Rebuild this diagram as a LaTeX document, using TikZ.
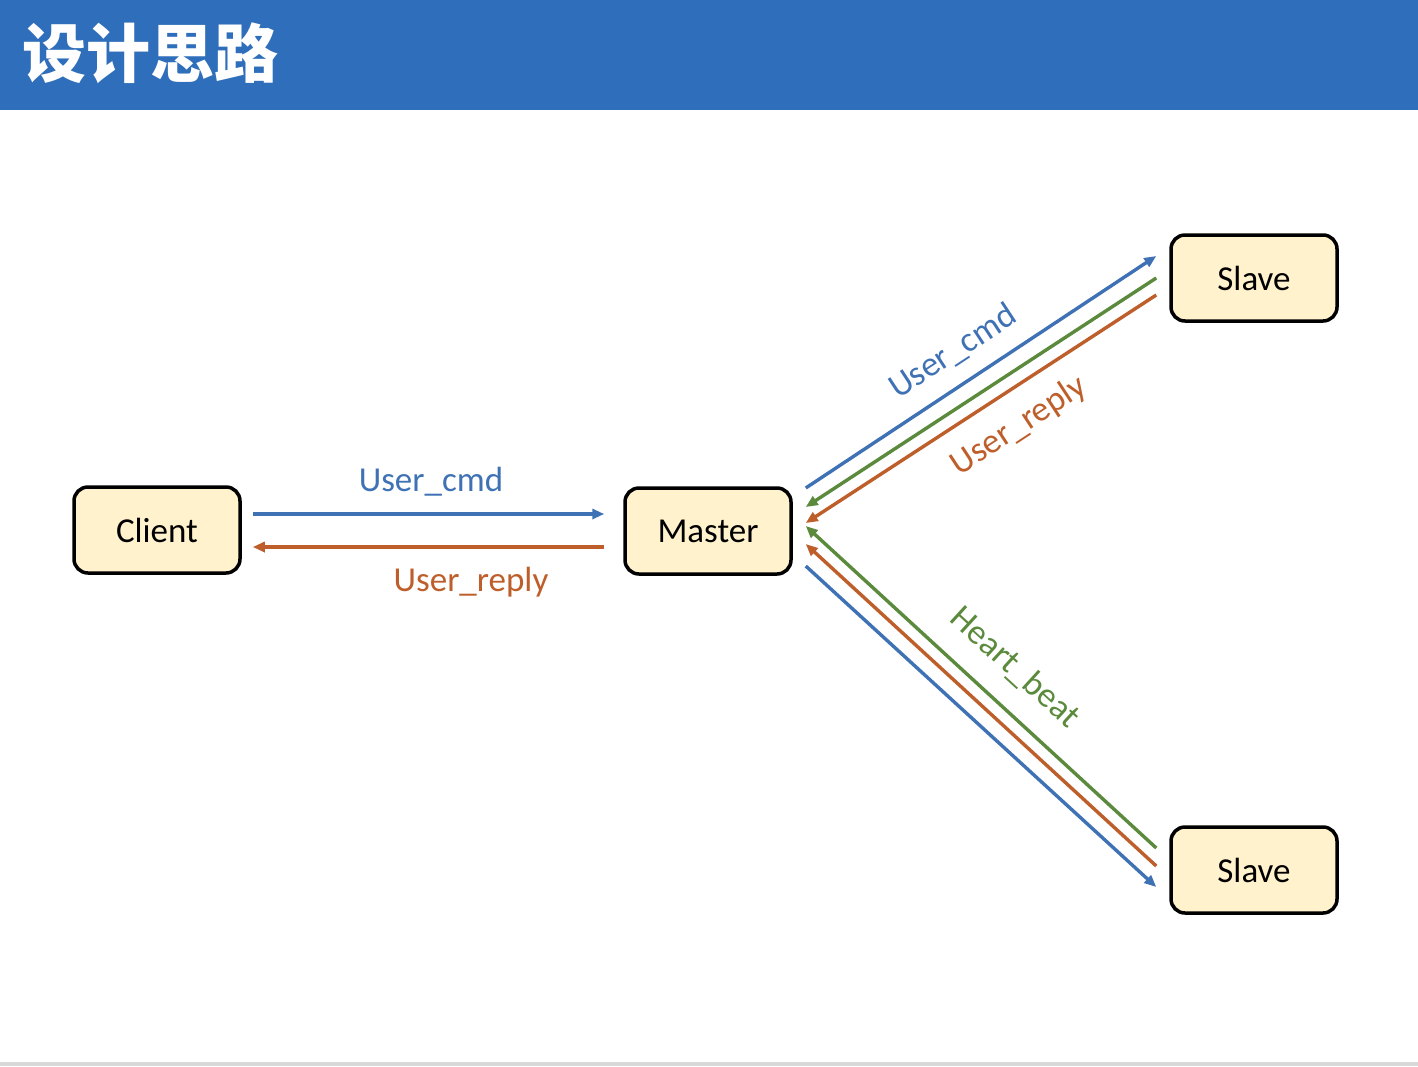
\documentclass[tikz,border=0pt]{standalone}
\usepackage{fontspec}
\setmainfont{Carlito}
\newfontfamily\cjk{Noto Sans CJK SC}
\usetikzlibrary{arrows.meta,calc}
\definecolor{hdr}{HTML}{2F6EBA}
\definecolor{cblue}{HTML}{3F72B5}
\definecolor{corange}{HTML}{BE5F2B}
\definecolor{cgreen}{HTML}{5B8A3C}
\definecolor{boxfill}{HTML}{FFF2CC}
\definecolor{rule}{HTML}{D9D9D9}
\begin{document}
\begin{tikzpicture}[x=1pt,y=-1pt,
  box/.style={draw=black,line width=3.5pt,fill=boxfill,rounded corners=14pt,
    minimum width=166pt,minimum height=86pt,inner sep=0pt,
    font=\fontsize{35}{40}\selectfont},
  link/.style={line width=3.4pt,-{Triangle[length=12pt,width=10pt]}},
  lbl/.style={inner sep=0pt,font=\fontsize{35}{40}\selectfont}]
\useasboundingbox (0,0) rectangle (1418,1066);
\fill[white] (0,0) rectangle (1418,1066);
\fill[hdr] (0,0) rectangle (1418,110);
\fill[rule] (0,1062) rectangle (1418,1066);
\node[anchor=west,inner sep=0pt,text=white,font=\cjk\bfseries\fontsize{64}{70}\selectfont] (title) at (22,53) {设计思路};

\node[box] (client) at (157,530) {Client};
\node[box] (master) at (708,531) {Master};
\node[box] (slave1) at (1254,278) {Slave};
\node[box] (slave2) at (1254,870) {Slave};

% endpoints
\coordinate (c1) at ($(client.east)+(11,-16)$);
\coordinate (m1) at ($(master.west)+(-19,-17)$);
\coordinate (c2) at ($(client.east)+(11,17)$);
\coordinate (m2) at ($(master.west)+(-19,16)$);

\coordinate (mu1) at ($(master.east)+(13,-43)$);
\coordinate (su1) at ($(slave1.west)+(-13,-22)$);
\coordinate (su2) at ($(slave1.west)+(-13,0)$);
\coordinate (mu2) at ($(master.east)+(13,-24)$);
\coordinate (su3) at ($(slave1.west)+(-13,17)$);
\coordinate (mu3) at ($(master.east)+(13,-8)$);

\coordinate (sd1) at ($(slave2.west)+(-13,-22)$);
\coordinate (md1) at ($(master.east)+(13,-5)$);
\coordinate (sd2) at ($(slave2.west)+(-13,-4)$);
\coordinate (md2) at ($(master.east)+(13,13)$);
\coordinate (md3) at ($(master.east)+(13,35)$);
\coordinate (sd3) at ($(slave2.west)+(-13,17)$);

\draw[link,cblue] (c1) -- (m1);
\draw[link,corange] (m2) -- (c2);

\draw[link,cblue] (mu1) -- (su1);
\draw[link,cgreen] (su2) -- (mu2);
\draw[link,corange] (su3) -- (mu3);

\draw[link,cgreen] (sd1) -- (md1);
\draw[link,corange] (sd2) -- (md2);
\draw[link,cblue] (md3) -- (sd3);

\node[lbl,text=cblue] (l1) at (431,482) {User\_cmd};
\node[lbl,text=corange] (l2) at (471,582) {User\_reply};
\node[lbl,text=cblue,rotate=33.3] (l3) at (953,352) {User\_cmd};
\node[lbl,text=corange,rotate=33.3] (l4) at (1019,426) {User\_reply};
\node[lbl,text=cgreen,rotate=-42.4] (l5) at (1015,668) {Heart\_beat};
\end{tikzpicture}
\end{document}
